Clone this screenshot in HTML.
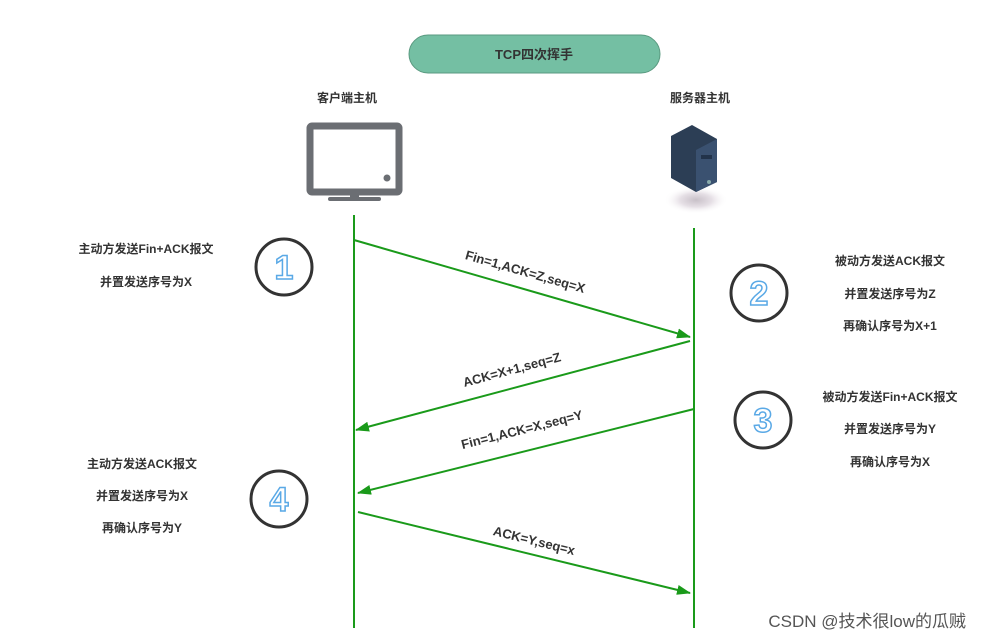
<!DOCTYPE html>
<html><head><meta charset="utf-8"><style>
html,body{margin:0;padding:0;background:#fff;}
svg{display:block;}
text{font-family:"Liberation Sans","Noto Sans CJK SC",sans-serif;font-weight:bold;fill:#333;}
</style></head><body>
<svg width="982" height="640" viewBox="0 0 982 640" xmlns="http://www.w3.org/2000/svg">
<defs>
<marker id="ah" markerWidth="14" markerHeight="10" refX="13" refY="5" orient="auto" markerUnits="userSpaceOnUse">
<path d="M0,0 L14,5 L0,10 z" fill="#1a9a1a"/></marker>
<radialGradient id="sh"><stop offset="0" stop-color="#c8c0c8"/><stop offset="0.5" stop-color="#e6e0e6"/><stop offset="1" stop-color="#fff" stop-opacity="0"/></radialGradient>
</defs>
<rect x="409" y="35" width="251" height="38" rx="19" fill="#74bfa3" stroke="#5a9a80" stroke-width="1"/>
<text x="534" y="59" font-size="13" text-anchor="middle">TCP四次挥手</text>
<text x="347" y="102" font-size="12" text-anchor="middle">客户端主机</text>
<text x="700" y="102" font-size="12" text-anchor="middle">服务器主机</text>
<rect x="310" y="126" width="89" height="66" rx="2" fill="none" stroke="#6b6e73" stroke-width="7"/>
<circle cx="387" cy="178" r="3.5" fill="#6b6e73"/>
<rect x="350" y="192" width="9" height="6" fill="#6b6e73"/>
<rect x="328" y="197" width="53" height="4" rx="2" fill="#6b6e73"/>
<ellipse cx="696" cy="200" rx="32" ry="14" fill="url(#sh)"/>
<path d="M671,136 L692,125 L717,139 L717,182 L696,192 L671,178 z" fill="#2c3e55"/>
<path d="M696,150 L717,139 L717,182 L696,192 z" fill="#3a5170"/>
<rect x="701" y="155" width="11" height="4" fill="#22334a"/>
<circle cx="709" cy="182" r="2" fill="#8aa"/>
<line x1="354" y1="215" x2="354" y2="628" stroke="#1a9a1a" stroke-width="2"/>
<line x1="694" y1="228" x2="694" y2="628" stroke="#1a9a1a" stroke-width="2"/>
<line x1="354" y1="240" x2="690" y2="337" stroke="#1a9a1a" stroke-width="2" marker-end="url(#ah)"/>
<line x1="690" y1="341" x2="356" y2="430" stroke="#1a9a1a" stroke-width="2" marker-end="url(#ah)"/>
<line x1="694" y1="409" x2="358" y2="493" stroke="#1a9a1a" stroke-width="2" marker-end="url(#ah)"/>
<line x1="358" y1="512" x2="690" y2="593" stroke="#1a9a1a" stroke-width="2" marker-end="url(#ah)"/>
<text font-size="13" text-anchor="middle" transform="translate(524,276) rotate(16)">Fin=1,ACK=Z,seq=X</text>
<text font-size="13" text-anchor="middle" transform="translate(513,374) rotate(-15)">ACK=X+1,seq=Z</text>
<text font-size="13" text-anchor="middle" transform="translate(523,434) rotate(-14)">Fin=1,ACK=X,seq=Y</text>
<text font-size="13" text-anchor="middle" transform="translate(533,545) rotate(14)">ACK=Y,seq=x</text>
<g fill="#fff" stroke="#333" stroke-width="3">
<circle cx="284" cy="267" r="28"/><circle cx="759" cy="293" r="28"/>
<circle cx="763" cy="420" r="28"/><circle cx="279" cy="499" r="28"/></g>
<g font-size="34" text-anchor="middle" style="fill:#fff;stroke:#5aa9e6;stroke-width:1.5;font-weight:normal">
<text x="284" y="279" style="fill:#fff">1</text><text x="759" y="305" style="fill:#fff">2</text>
<text x="763" y="432" style="fill:#fff">3</text><text x="279" y="511" style="fill:#fff">4</text></g>
<g font-size="12" text-anchor="middle">
<text x="146" y="253">主动方发送Fin+ACK报文</text>
<text x="146" y="286">并置发送序号为X</text>
<text x="890" y="265">被动方发送ACK报文</text>
<text x="890" y="298">并置发送序号为Z</text>
<text x="890" y="330">再确认序号为X+1</text>
<text x="890" y="401">被动方发送Fin+ACK报文</text>
<text x="890" y="433">并置发送序号为Y</text>
<text x="890" y="466">再确认序号为X</text>
<text x="142" y="468">主动方发送ACK报文</text>
<text x="142" y="500">并置发送序号为X</text>
<text x="142" y="532">再确认序号为Y</text>
</g>
<text x="966" y="627" font-size="17" text-anchor="end" style="font-weight:normal;fill:#555">CSDN @技术很low的瓜贼</text>
</svg>
</body></html>
